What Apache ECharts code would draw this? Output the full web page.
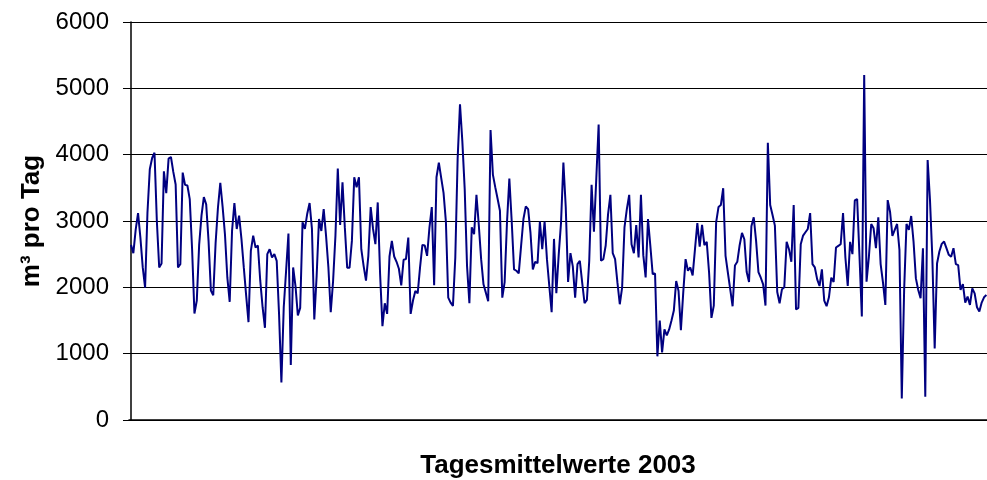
<!DOCTYPE html>
<html>
<head>
<meta charset="utf-8">
<script src="https://cdn.jsdelivr.net/npm/echarts@6/dist/echarts.min.js"></script>
<style>
  html, body { margin: 0; padding: 0; background: #fff; }
  #chart { width: 987px; height: 480px; }
</style>
</head>
<body>
<div id="chart"></div>
<script>
// Daily mean volume (m³ per day), 1 Jan – 31 Dec 2003
const dailyValues = [
  2640, 2515, 2870, 3120, 2750, 2300, 1995, 3120, 3780, 3950,
  4030, 3000, 2300, 2360, 3750, 3420, 3940, 3965, 3740, 3550,
  2300, 2350, 3730, 3545, 3535, 3330, 2575, 1605, 1800, 2640,
  3080, 3360, 3250, 2700, 1950, 1880, 2665, 3200, 3575, 3210,
  2790, 2145, 1780, 2850, 3270, 2880, 3080, 2730, 2300, 1880,
  1475, 2550, 2780, 2600, 2630, 2100, 1700, 1390, 2500, 2575,
  2450, 2500, 2400, 1600, 565, 1700, 2250, 2810, 830, 2300,
  2020, 1575, 1690, 2980, 2880, 3110, 3270, 2880, 1515, 2170,
  3030, 2850, 3180, 2780, 2300, 1625, 2095, 2780, 3790, 2940,
  3585, 2900, 2295, 2295, 2700, 3660, 3510, 3660, 2575, 2320,
  2100, 2475, 3210, 2880, 2650, 3280, 2200, 1415, 1760, 1600,
  2465, 2700, 2465, 2385, 2280, 2030, 2415, 2425, 2750, 1600,
  1800, 1945, 1910, 2300, 2640, 2630, 2475, 2900, 3210, 2030,
  3660, 3880, 3650, 3425, 2990, 1845, 1770, 1720, 2450, 3940,
  4760, 4200, 3485, 2320, 1760, 2905, 2800, 3395, 2940, 2425,
  2045, 1920, 1790, 4370, 3700, 3510, 3335, 3155, 1845, 2080,
  2980, 3640, 3000, 2270, 2250, 2210, 2625, 3030, 3220, 3180,
  2820, 2270, 2385, 2365, 2990, 2575, 2990, 2425, 2020, 1625,
  2730, 1910, 2485, 2980, 3880, 3210, 2080, 2515, 2315, 1845,
  2350, 2400, 2070, 1760, 1810, 2400, 3545, 2840, 3640, 4455,
  2400, 2425, 2630, 3100, 3395, 2515, 2425, 2070, 1745, 2000,
  2905, 3180, 3395, 2650, 2515, 2940, 2450, 3395, 2485, 2150,
  3030, 2625, 2200, 2210, 960, 1500, 1020, 1365, 1275, 1365,
  1500, 1650, 2095, 1945, 1355, 1920, 2425, 2250, 2300, 2180,
  2575, 2970, 2615, 2940, 2635, 2685, 2220, 1540, 1725, 2980,
  3210, 3240, 3495, 2475, 2220, 1970, 1715, 2330, 2385, 2635,
  2820, 2725, 2230, 2080, 2920, 3055, 2700, 2230, 2145, 2045,
  1725, 4180, 3240, 3090, 2930, 1930, 1760, 1970, 2000, 2685,
  2575, 2385, 3240, 1665, 1690, 2650, 2780, 2830, 2880, 3120,
  2350, 2300, 2120, 2020, 2270, 1800, 1715, 1850, 2145, 2080,
  2600, 2625, 2650, 3120, 2450, 2020, 2685, 2500, 3310, 3330,
  2470, 1560, 5200, 2085, 2460, 2955, 2890, 2590, 3055, 2350,
  2070, 1735, 3315, 3140, 2775, 2865, 2955, 2565, 325, 1960,
  2955, 2865, 3075, 2690, 2135, 1960, 1835, 2590, 350, 3920,
  3315, 2450, 1080, 2360, 2540, 2655, 2690, 2590, 2490, 2460,
  2590, 2350, 2335, 1960, 2050, 1770, 1860, 1735, 1985, 1910,
  1700, 1635, 1770, 1850, 1885
];

const yTicks = [0, 1000, 2000, 3000, 4000, 5000, 6000];
const yAxisTitle = 'm³ pro Tag';
const xAxisTitle = 'Tagesmittelwerte 2003';

const chart = echarts.init(document.getElementById('chart'), null, { renderer: 'canvas' });

// day index -> value pairs on a numeric day axis
const seriesData = dailyValues.map((v, i) => [i, v]);

const fontFamily = 'Liberation Sans, Arial, sans-serif';

chart.setOption({
  animation: false,
  backgroundColor: '#ffffff',
  grid: {
    left: 129, right: 0, top: 22, bottom: 60,
    containLabel: false,
    outerBoundsMode: 'none'
  },
  xAxis: {
    type: 'value',
    min: -0.85,
    max: dailyValues.length - 0.74,
    name: xAxisTitle,
    nameLocation: 'middle',
    nameGap: 33,
    nameTextStyle: { fontFamily, fontWeight: 'bold', fontSize: 26, color: '#000' },
    axisLine: { show: true, lineStyle: { color: '#000', width: 1.5 } },
    axisTick: { show: false },
    axisLabel: { show: false },
    splitLine: { show: false }
  },
  yAxis: {
    type: 'value',
    min: yTicks[0],
    max: yTicks[yTicks.length - 1],
    interval: 1000,
    name: yAxisTitle,
    nameLocation: 'middle',
    nameGap: 84,
    nameRotate: 90,
    nameTextStyle: { fontFamily, fontWeight: 'bold', fontSize: 26, color: '#000' },
    axisLine: { show: true, lineStyle: { color: '#000', width: 1.5 } },
    axisTick: { show: true, length: 8, lineStyle: { color: '#000', width: 1 } },
    axisLabel: {
      margin: 20,
      fontFamily,
      fontSize: 24,
      color: '#000',
      formatter: (v) => String(v)
    },
    splitLine: { show: true, lineStyle: { color: '#000', width: 1 } }
  },
  series: [{
    type: 'line',
    data: seriesData,
    symbol: 'none',
    lineStyle: { color: '#000080', width: 2 },
    z: 3
  }]
});
</script>
</body>
</html>
